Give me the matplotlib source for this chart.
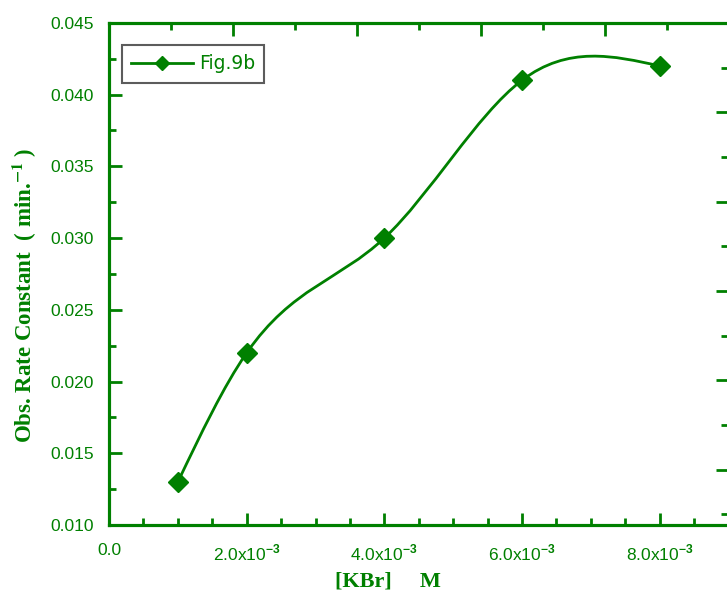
import matplotlib as mpl
import matplotlib.pyplot as plt
from matplotlib.path import Path
from matplotlib.patches import PathPatch
from matplotlib.lines import Line2D
import numpy as np

mpl.rcParams['font.family'] = 'Liberation Sans'
mpl.rcParams['mathtext.fontset'] = 'custom'
mpl.rcParams['mathtext.rm'] = 'Liberation Sans'
mpl.rcParams['mathtext.bf'] = 'Liberation Sans:bold'

# data
kbr = [0.001, 0.002, 0.004, 0.006, 0.008]
k_obs = [0.013, 0.022, 0.030, 0.041, 0.042]

x_ticks = [0.0, 0.002, 0.004, 0.006, 0.008]
x_tick_labels = ['0.0', '2.0x10$^{\\mathbf{-3}}$', '4.0x10$^{\\mathbf{-3}}$',
                 '6.0x10$^{\\mathbf{-3}}$', '8.0x10$^{\\mathbf{-3}}$']
y_ticks = [0.010, 0.015, 0.020, 0.025, 0.030, 0.035, 0.040, 0.045]
y_tick_labels = ['0.010', '0.015', '0.020', '0.025', '0.030', '0.035', '0.040', '0.045']

green = '#008000'


def spline_path(x, y):
    # natural cubic spline through the points, drawn as bezier segments
    x = np.asarray(x, float)
    y = np.asarray(y, float)
    n = len(x)
    h = np.diff(x)
    A = np.zeros((n, n))
    b = np.zeros(n)
    A[0, 0] = 1
    A[-1, -1] = 1
    for i in range(1, n - 1):
        A[i, i - 1] = h[i - 1]
        A[i, i] = 2 * (h[i - 1] + h[i])
        A[i, i + 1] = h[i]
        b[i] = 6 * ((y[i + 1] - y[i]) / h[i] - (y[i] - y[i - 1]) / h[i - 1])
    M = np.linalg.solve(A, b)
    # slopes at knots
    m = np.zeros(n)
    for i in range(n - 1):
        m[i] = (y[i + 1] - y[i]) / h[i] - h[i] * (2 * M[i] + M[i + 1]) / 6
    m[-1] = (y[-1] - y[-2]) / h[-1] + h[-1] * (M[-2] + 2 * M[-1]) / 6
    verts = [(x[0], y[0])]
    codes = [Path.MOVETO]
    for i in range(n - 1):
        verts += [(x[i] + h[i] / 3, y[i] + m[i] * h[i] / 3),
                  (x[i + 1] - h[i] / 3, y[i + 1] - m[i + 1] * h[i] / 3),
                  (x[i + 1], y[i + 1])]
        codes += [Path.CURVE4] * 3
    return Path(verts, codes)


fig = plt.figure(figsize=(7.27, 5.90), dpi=100)
ax = fig.add_axes([0.15, 0.1102, 0.852, 0.851])

ax.add_patch(PathPatch(spline_path(kbr, k_obs), facecolor='none', edgecolor=green, lw=2))
ax.plot(kbr, k_obs, linestyle='none', marker='D', ms=10, color=green, zorder=3)

ax.set_xlim(0, 0.009)
ax.set_ylim(0.010, 0.045)
ax.set_xticks(x_ticks)
ax.set_xticklabels(x_tick_labels)
ax.set_yticks(y_ticks)
ax.set_yticklabels(y_tick_labels)
ax.xaxis.set_minor_locator(mpl.ticker.MultipleLocator(0.0005))
ax.yaxis.set_minor_locator(mpl.ticker.MultipleLocator(0.0025))
ax.tick_params(which='major', direction='in', length=9, width=2, color=green,
               labelcolor=green, labelsize=12.5, pad=11)
ax.tick_params(axis='x', which='major', pad=13)
ax.tick_params(which='minor', direction='in', length=5, width=2, color=green)
for sp in ax.spines.values():
    sp.set_color(green)
    sp.set_linewidth(2.2)

# top and right axes carry their own tick spacing
ax_top = ax.twiny()
ax_top.set_xlim(0, 0.009)
ax_top.xaxis.set_major_locator(mpl.ticker.MultipleLocator(0.0018))
ax_top.xaxis.set_minor_locator(mpl.ticker.MultipleLocator(0.0009))
ax_top.tick_params(which='major', direction='in', length=9, width=2, color=green, labeltop=False)
ax_top.tick_params(which='minor', direction='in', length=5, width=2, color=green)
ax_right = ax.twinx()
ax_right.set_ylim(5.62, 0)
ax_right.yaxis.set_major_locator(mpl.ticker.MultipleLocator(1))
ax_right.yaxis.set_minor_locator(mpl.ticker.MultipleLocator(0.5))
ax_right.tick_params(which='major', direction='in', length=9, width=2, color=green, labelright=False)
ax_right.tick_params(which='minor', direction='in', length=5, width=2, color=green)
for a in (ax_top, ax_right):
    for sp in a.spines.values():
        sp.set_color(green)
        sp.set_linewidth(2.2)

ax.set_xlabel('[KBr]     M', family='Liberation Serif', fontweight='bold',
              fontsize=16, color=green)
ax.xaxis.set_label_coords(0.45, -0.092)
ylab = ax.set_ylabel('Obs. Rate Constant  ( min.$^{\\mathbf{-1}}$ )', family='Liberation Serif',
                     fontweight='bold', fontsize=16.5, color=green)
ylab.set_math_fontfamily('stix')
ax.yaxis.set_label_coords(-0.113, 0.458)

handle = Line2D([], [], color=green, lw=2, marker='D', ms=7)
leg = ax_right.legend([handle], ['Fig.9b'], loc='upper left', bbox_to_anchor=(0.021, 0.956),
                      borderaxespad=0, fancybox=False, edgecolor='#333333', handlelength=3.3,
                      handletextpad=0.3, borderpad=0.5, labelcolor=green,
                      prop={'family': 'DejaVu Sans', 'size': 13.5})
leg.get_frame().set_linewidth(1.5)

fig.savefig('out.png', dpi=100)
